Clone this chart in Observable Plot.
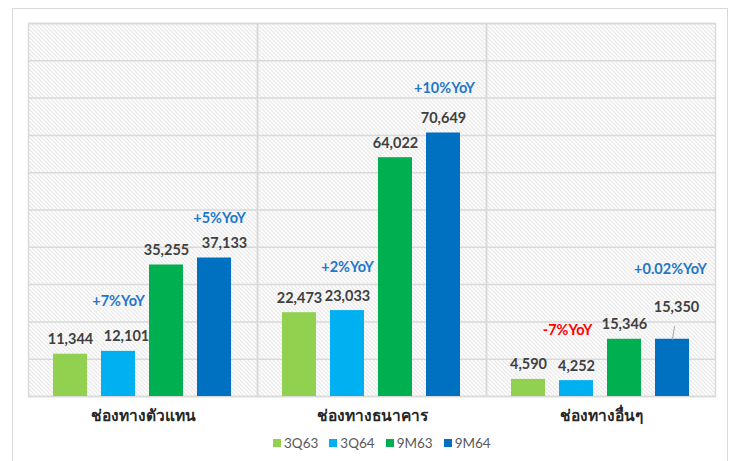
<!DOCTYPE html>
<html><head><meta charset="utf-8">
<script src="https://cdn.jsdelivr.net/npm/d3@7"></script>
<script src="https://cdn.jsdelivr.net/npm/@observablehq/plot@0.6"></script>
<style>
body{margin:0;background:#fff;font-family:Lato,"Noto Sans",sans-serif;}
#wrap{position:relative;width:736px;height:461px;overflow:hidden;background:#fff;}
#border{position:absolute;left:12px;top:8px;width:716px;height:470px;border:1px solid #d9d9d9;box-sizing:border-box;}
#chart{position:absolute;left:0;top:0;}
#legend{position:absolute;top:435px;left:273px;display:flex;align-items:center;font-size:13.5px;color:#595959;font-family:Lato,"Noto Sans",sans-serif;}
#legend .item{display:flex;align-items:center;margin-right:11px;}
#legend .sw{width:8px;height:8px;margin-right:3px;}
</style></head>
<body>
<div id="wrap"><div id="border"></div><div id="chart"></div><div id="legend"></div></div>
<script>
const categories = ["ช่องทางตัวแทน", "ช่องทางธนาคาร", "ช่องทางอื่นๆ"];
const seriesNames = ["3Q63", "3Q64", "9M63", "9M64"];
const values3Q63 = [11344, 22473, 4590];
const values3Q64 = [12101, 23033, 4252];
const values9M63 = [35255, 64022, 15346];
const values9M64 = [37133, 70649, 15350];
const yoyCategory = ["ช่องทางตัวแทน", "ช่องทางตัวแทน", "ช่องทางธนาคาร", "ช่องทางธนาคาร", "ช่องทางอื่นๆ", "ช่องทางอื่นๆ"];
const yoySeries = ["3Q64", "9M64", "3Q64", "9M64", "3Q64", "9M64"];
const yoyText = ["+7%YoY", "+5%YoY", "+2%YoY", "+10%YoY", "-7%YoY", "+0.02%YoY"];

const seriesColors = ["#92D050", "#00B0F0", "#00B050", "#0070C0"];

const seriesValues = [values3Q63, values3Q64, values9M63, values9M64];
const rows = [];
categories.forEach((c, i) => seriesNames.forEach((s, j) => rows.push({category: c, series: s, value: seriesValues[j][i]})));
const yoy = yoyText.map((t, i) => {
  const r = rows.find(d => d.category === yoyCategory[i] && d.series === yoySeries[i]);
  return {category: yoyCategory[i], series: yoySeries[i], value: r.value, text: t};
});

// label nudges (pixels), keyed by category index|series
const labelNudge = {"0|3Q64": [8, 0], "0|9M64": [10, 0], "2|9M64": [4, -17]};
const yoyNudge = {"+7%YoY": [0, -50], "+5%YoY": [5, -40], "+2%YoY": [0, -43], "+10%YoY": [1, -45], "-7%YoY": [-9, -50], "+0.02%YoY": [-2, -70]};
const keyOf = d => categories.indexOf(d.category) + "|" + d.series;

const fmt = d3.format(",");
const font = "Lato, 'Noto Sans', sans-serif";

const labelMarks = rows.map(d => {
  const n = labelNudge[keyOf(d)] || [0, 0];
  return Plot.text([d], {fx: "category", x: "series", y: "value", text: r => fmt(r.value),
    lineAnchor: "bottom", dx: n[0], dy: -10 + n[1], fontSize: 14.5, fontWeight: "bold", fill: "#404040"});
});
const yoyMarks = yoy.map(d => {
  const n = yoyNudge[d.text] || [0, -46];
  return Plot.text([d], {fx: "category", x: "series", y: "value", text: "text",
    lineAnchor: "middle", dx: n[0], dy: n[1], fontSize: 14.5, fontWeight: "bold",
    fill: d.text.startsWith("-") ? "#FF0000" : "#1F77C9"});
});
const leader = rows.filter(d => keyOf(d) === "2|9M64");

const chart = Plot.plot({
  width: 736, height: 425,
  marginLeft: 28, marginRight: 21, marginTop: 23, marginBottom: 29,
  style: {fontFamily: font, background: "transparent", overflow: "visible"},
  fx: {domain: categories, padding: 0, label: null},
  x: {domain: seriesNames, paddingInner: 0.29, paddingOuter: 0.53, axis: null},
  y: {domain: [0, 100000], axis: null},
  color: {domain: seriesNames, range: seriesColors},
  marks: [
    Plot.frame({fill: "url(#hatch)", stroke: "none"}),
    Plot.gridY({ticks: 10, stroke: "#d9d9d9", strokeOpacity: 1, strokeWidth: 1.5}),
    Plot.frame({stroke: "#d9d9d9", strokeWidth: 1.5}),
    Plot.barY(rows, {fx: "category", x: "series", y: "value", fill: "series"}),
    Plot.vector(leader, {fx: "category", x: "series", y: "value", length: 13, rotate: 9, anchor: "start",
      stroke: "#a6a6a6", strokeWidth: 1,
      shape: {draw(ctx, l) { ctx.moveTo(0, 0); ctx.lineTo(0, -l); }}}),
    ...labelMarks,
    ...yoyMarks,
    Plot.axisFx({anchor: "bottom", tickSize: 0, tickPadding: 13, fontSize: 15.5, fontWeight: "bold", fill: "#262626", label: null})
  ]
});
const ns = "http://www.w3.org/2000/svg";
const defs = document.createElementNS(ns, "defs");
defs.innerHTML = '<pattern id="hatch" patternUnits="userSpaceOnUse" width="4" height="4">' +
  '<rect width="4" height="4" fill="#ffffff"/>' +
  '<path d="M-1,-1 L5,5 M3,-1 L5,1 M-1,3 L1,5" stroke="#d0d0d0" stroke-width="0.9"/></pattern>';
chart.insertBefore(defs, chart.firstChild);
document.getElementById("chart").appendChild(chart);

const legend = document.getElementById("legend");
seriesNames.forEach((s, i) => {
  const item = document.createElement("div");
  item.className = "item";
  item.innerHTML = `<span class="sw" style="background:${seriesColors[i]}"></span><span>${s}</span>`;
  legend.appendChild(item);
});
</script>
</body></html>
